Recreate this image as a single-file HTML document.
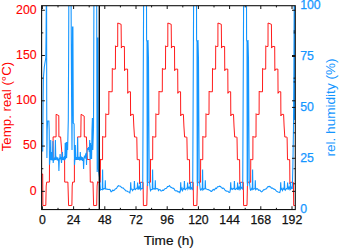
<!DOCTYPE html>
<html><head><meta charset="utf-8"><style>
html,body{margin:0;padding:0;background:#fff;width:342px;height:248px;overflow:hidden}
svg{display:block}
</style></head><body>
<svg width="342" height="248" viewBox="0 0 342 248">
<rect width="342" height="248" fill="#fff"/>
<defs><clipPath id="c"><rect x="41.6" y="5.7" width="253.70000000000002" height="203.85000000000002"/></clipPath></defs>
<g clip-path="url(#c)" fill="none" stroke-linejoin="miter" stroke-linecap="butt">
<path d="M41.50,174.00 L42.70,174.00 L42.90,205.60 L45.80,205.40 L46.20,186.00 L46.70,182.10 L49.40,182.10 L49.50,159.50 L53.10,159.50 L53.10,136.90 L56.10,136.90 L56.10,114.30 L58.80,115.60 L58.90,136.90 L60.60,136.90 L62.40,159.50 L64.60,159.50 L64.70,182.10 L67.90,182.10 L68.60,205.60 L71.90,205.40 L72.20,186.00 L72.60,182.10 L74.40,182.10 L74.40,159.50 L77.60,159.50 L77.60,136.90 L80.80,136.90 L81.10,114.30 L84.20,116.20 L84.30,136.90 L86.40,136.90 L87.30,159.50 L90.00,159.50 L90.30,182.10 L93.00,182.10 L93.60,205.60 L96.70,205.40 L97.10,186.00 L97.60,181.69 L98.30,182.29 L100.35,182.29 L100.45,158.96 L101.05,159.66 L102.55,159.66 L102.65,136.32 L103.25,137.02 L105.70,137.02 L105.80,113.68 L106.40,114.38 L108.80,114.38 L108.90,91.05 L109.50,91.75 L112.20,91.75 L112.30,68.41 L112.90,69.11 L115.40,69.11 L115.50,45.77 L116.10,46.47 L117.70,46.47 L117.75,23.00 L121.10,24.30 L121.35,48.07 L122.10,46.47 L124.40,46.47 L124.55,70.71 L125.30,69.11 L127.60,69.11 L127.75,93.34 L128.50,91.75 L130.45,91.75 L130.60,115.98 L131.35,114.38 L133.30,114.38 L133.80,126.00 L134.50,137.02 L136.50,137.02 L136.80,137.62 L137.20,159.66 L139.40,159.66 L139.60,183.79 L140.30,182.29 L143.10,182.29 L143.40,205.60 L146.80,205.40 L147.20,186.00 L147.70,181.69 L148.40,182.29 L150.45,182.29 L150.55,158.96 L151.15,159.66 L152.65,159.66 L152.75,136.32 L153.35,137.02 L155.80,137.02 L155.90,113.68 L156.50,114.38 L158.90,114.38 L159.00,91.05 L159.60,91.75 L162.30,91.75 L162.40,68.41 L163.00,69.11 L165.50,69.11 L165.60,45.77 L166.20,46.47 L167.80,46.47 L167.85,23.00 L171.20,24.30 L171.45,48.07 L172.20,46.47 L174.50,46.47 L174.65,70.71 L175.40,69.11 L177.70,69.11 L177.85,93.34 L178.60,91.75 L180.55,91.75 L180.70,115.98 L181.45,114.38 L183.40,114.38 L183.90,126.00 L184.60,137.02 L186.60,137.02 L186.90,137.62 L187.30,159.66 L189.50,159.66 L189.70,183.79 L190.40,182.29 L193.20,182.29 L193.50,205.60 L196.90,205.40 L197.30,186.00 L197.80,181.69 L198.50,182.29 L200.55,182.29 L200.65,158.96 L201.25,159.66 L202.75,159.66 L202.85,136.32 L203.45,137.02 L205.90,137.02 L206.00,113.68 L206.60,114.38 L209.00,114.38 L209.10,91.05 L209.70,91.75 L212.40,91.75 L212.50,68.41 L213.10,69.11 L215.60,69.11 L215.70,45.77 L216.30,46.47 L217.90,46.47 L217.95,23.00 L221.30,24.30 L221.55,48.07 L222.30,46.47 L224.60,46.47 L224.75,70.71 L225.50,69.11 L227.80,69.11 L227.95,93.34 L228.70,91.75 L230.65,91.75 L230.80,115.98 L231.55,114.38 L233.50,114.38 L234.00,126.00 L234.70,137.02 L236.70,137.02 L237.00,137.62 L237.40,159.66 L239.60,159.66 L239.80,183.79 L240.50,182.29 L243.30,182.29 L243.60,205.60 L247.00,205.40 L247.40,186.00 L247.90,181.69 L248.60,182.29 L250.65,182.29 L250.75,158.96 L251.35,159.66 L252.85,159.66 L252.95,136.32 L253.55,137.02 L256.00,137.02 L256.10,113.68 L256.70,114.38 L259.10,114.38 L259.20,91.05 L259.80,91.75 L262.50,91.75 L262.60,68.41 L263.20,69.11 L265.70,69.11 L265.80,45.77 L266.40,46.47 L268.00,46.47 L268.05,23.00 L271.40,24.30 L271.65,48.07 L272.40,46.47 L274.70,46.47 L274.85,70.71 L275.60,69.11 L277.90,69.11 L278.05,93.34 L278.80,91.75 L280.75,91.75 L280.90,115.98 L281.65,114.38 L283.60,114.38 L284.10,126.00 L284.80,137.02 L286.80,137.02 L287.10,137.62 L287.50,159.66 L289.70,159.66 L289.90,183.79 L290.60,182.29 L293.40,182.29 L293.70,205.60 L296.00,205.40" stroke="#ff0000" stroke-width="0.9"/>
<path d="M41.50,151.00 L42.70,151.00 L43.10,100.00 L43.40,78.00 L44.30,67.00 L45.80,57.80 L46.10,35.00 L46.30,5.00 L46.60,5.00 L46.70,100.00 L46.90,158.00 L47.20,130.00 L47.60,121.00 L48.90,121.00 L49.20,130.00 L49.50,164.70 L50.00,159.50 L50.40,158.00 L50.70,140.00 L51.00,160.00 L51.30,158.00 L51.70,152.00 L52.00,160.50 L52.40,158.00 L52.90,141.00 L53.20,163.00 L53.50,159.50 L53.80,160.00 L54.40,158.50 L55.00,160.00 L55.40,140.00 L55.80,160.00 L56.15,156.66 L56.50,159.50 L56.90,157.50 L57.30,160.50 L57.75,157.42 L58.20,160.00 L58.60,161.00 L58.90,171.00 L59.30,159.00 L59.80,158.00 L60.10,154.00 L60.50,159.50 L60.85,157.17 L61.20,160.00 L61.50,163.00 L61.90,158.00 L62.40,152.00 L62.80,160.00 L63.15,156.75 L63.50,159.50 L63.85,157.67 L64.20,160.50 L64.60,156.00 L64.90,160.00 L65.20,143.00 L65.60,159.00 L66.20,142.00 L66.60,158.00 L67.30,142.00 L67.60,150.00 L68.30,120.00 L68.60,60.00 L68.80,5.00 L71.10,5.00 L71.60,100.00 L72.00,150.00 L72.50,27.00 L72.90,27.00 L73.30,123.00 L74.10,124.00 L74.50,165.00 L74.90,159.50 L75.30,145.00 L75.70,160.00 L76.10,157.69 L76.50,159.00 L76.85,157.22 L77.20,160.00 L77.60,137.50 L77.90,159.50 L78.25,157.21 L78.60,160.00 L79.00,156.78 L79.40,159.00 L80.00,160.50 L80.30,152.00 L80.60,160.00 L81.05,156.41 L81.50,160.00 L81.90,156.99 L82.30,161.00 L82.65,157.34 L83.00,159.50 L83.30,160.00 L83.60,169.00 L84.00,159.00 L84.35,156.51 L84.70,157.00 L85.10,157.67 L85.50,155.00 L86.20,153.00 L86.50,165.00 L86.90,152.00 L87.60,148.00 L88.00,150.00 L88.60,147.00 L89.30,152.00 L89.70,140.00 L90.10,160.00 L90.50,143.00 L90.90,159.00 L91.20,145.00 L91.60,159.00 L92.00,130.00 L92.40,118.00 L92.80,150.00 L93.50,128.00 L93.90,5.00 L96.70,5.00 L96.90,100.00 L97.20,172.00 L97.50,38.00 L97.90,38.00 L98.30,169.00 L99.60,178.00 L100.50,189.94 L101.00,189.57 L101.80,189.51 L102.30,189.46 L102.60,169.50 L102.90,189.51 L104.00,188.60 L105.00,188.62 L105.30,180.30 L105.60,189.01 L107.00,189.16 L108.00,189.55 L108.50,189.51 L109.00,189.26 L110.00,189.51 L111.00,191.67 L111.70,191.73 L112.50,190.15 L113.50,190.58 L114.50,190.06 L115.50,188.68 L116.50,188.44 L117.50,186.59 L118.50,185.72 L119.50,186.03 L120.50,186.27 L121.50,187.63 L122.50,187.99 L123.00,187.94 L124.00,188.96 L125.00,189.93 L126.00,190.91 L127.00,191.02 L128.00,191.67 L129.00,192.00 L129.80,192.89 L130.40,189.95 L130.70,182.30 L131.10,189.23 L132.00,189.10 L132.50,190.59 L133.50,189.41 L134.10,189.25 L134.40,181.00 L134.80,188.78 L135.50,189.68 L136.50,188.25 L137.30,187.98 L137.60,182.50 L138.00,189.82 L139.00,186.88 L139.80,189.42 L140.10,187.36 L140.40,182.00 L140.80,189.55 L141.50,188.42 L142.20,188.40 L142.70,188.65 L143.60,5.00 L146.50,5.00 L146.60,40.00 L147.00,42.00 L147.20,182.00 L147.60,186.00 L148.00,40.00 L148.50,60.00 L149.20,180.00 L149.90,186.00 L150.20,189.00 L150.50,190.49 L151.00,189.46 L151.80,189.58 L152.30,189.38 L152.60,169.50 L152.90,188.99 L154.00,188.66 L155.00,189.33 L155.30,180.30 L155.60,188.72 L157.00,188.50 L158.00,189.00 L158.50,190.56 L159.00,189.81 L160.00,189.54 L161.00,191.00 L161.70,191.02 L162.50,190.17 L163.50,190.36 L164.50,189.11 L165.50,188.57 L166.50,188.24 L167.50,186.63 L168.50,186.58 L169.50,185.56 L170.50,186.97 L171.50,187.54 L172.50,188.20 L173.00,188.16 L174.00,188.72 L175.00,190.57 L176.00,190.86 L177.00,190.76 L178.00,191.96 L179.00,191.65 L179.80,192.57 L180.40,190.43 L180.70,182.30 L181.10,189.67 L182.00,188.02 L182.50,190.59 L183.50,188.66 L184.10,188.71 L184.40,181.00 L184.80,189.33 L185.50,189.79 L186.50,188.26 L187.30,187.99 L187.60,182.50 L188.00,189.01 L189.00,187.10 L189.80,188.69 L190.10,187.62 L190.40,182.00 L190.80,188.85 L191.50,187.94 L192.20,189.55 L192.70,188.98 L193.60,5.00 L196.50,5.00 L196.60,40.00 L197.00,42.00 L197.20,182.00 L197.60,186.00 L198.00,40.00 L198.50,60.00 L199.20,180.00 L199.90,186.00 L200.20,189.00 L200.50,190.09 L201.00,189.94 L201.80,188.62 L202.30,189.08 L202.60,169.50 L202.90,189.99 L204.00,188.88 L205.00,188.70 L205.30,180.30 L205.60,188.63 L207.00,189.29 L208.00,189.73 L208.50,189.64 L209.00,190.04 L210.00,190.46 L211.00,191.42 L211.70,191.41 L212.50,190.22 L213.50,189.45 L214.50,190.06 L215.50,188.19 L216.50,188.55 L217.50,186.71 L218.50,186.69 L219.50,186.12 L220.50,186.55 L221.50,187.61 L222.50,188.56 L223.00,187.98 L224.00,188.67 L225.00,190.07 L226.00,190.92 L227.00,191.14 L228.00,191.24 L229.00,192.50 L229.80,192.34 L230.40,189.42 L230.70,182.30 L231.10,189.22 L232.00,188.43 L232.50,189.47 L233.50,188.61 L234.10,188.84 L234.40,181.00 L234.80,189.09 L235.50,189.56 L236.50,188.33 L237.30,188.97 L237.60,182.50 L238.00,190.08 L239.00,187.19 L239.80,189.23 L240.10,187.60 L240.40,182.00 L240.80,188.57 L241.50,187.44 L242.20,188.42 L242.70,189.49 L243.60,5.00 L246.50,5.00 L246.60,40.00 L247.00,42.00 L247.20,182.00 L247.60,186.00 L248.00,40.00 L248.50,60.00 L249.20,180.00 L249.90,186.00 L250.20,189.00 L250.50,190.24 L251.00,190.06 L251.80,188.43 L252.30,189.66 L252.60,169.50 L252.90,189.48 L254.00,188.78 L255.00,188.78 L255.30,180.30 L255.60,189.60 L257.00,188.49 L258.00,189.26 L258.50,190.28 L259.00,189.98 L260.00,190.28 L261.00,191.54 L261.70,191.85 L262.50,191.20 L263.50,189.82 L264.50,189.72 L265.50,188.98 L266.50,188.75 L267.50,186.90 L268.50,186.65 L269.50,186.44 L270.50,186.89 L271.50,188.15 L272.50,188.16 L273.00,188.60 L274.00,189.13 L275.00,189.50 L276.00,190.67 L277.00,191.59 L278.00,191.96 L279.00,192.27 L279.80,192.57 L280.40,190.28 L280.70,182.30 L281.10,189.60 L282.00,188.43 L282.50,190.41 L283.50,188.50 L284.10,189.30 L284.40,181.00 L284.80,188.44 L285.50,190.12 L286.50,188.48 L287.30,188.18 L287.60,182.50 L288.00,189.74 L289.00,187.00 L289.80,189.14 L290.10,188.00 L290.40,182.00 L290.80,188.71 L291.50,187.41 L292.20,188.76 L292.30,189.00 L292.90,165.00 L293.50,127.00 L293.90,70.00 L294.20,5.00 L294.50,5.00 L294.70,120.00 L294.40,5.00" stroke="#1496ff" stroke-width="1.1"/>
</g>
<path d="M99.3,5.7 V209.55" stroke="#000" stroke-width="1.3"/>
<rect x="41.6" y="5.7" width="253.70000000000002" height="203.85000000000002" fill="none" stroke="#111" stroke-width="1.1"/>
<path d="M42.40,209.55 V206.25 M42.40,5.7 V9.00 M58.00,209.55 V207.85 M58.00,5.7 V7.40 M73.60,209.55 V206.25 M73.60,5.7 V9.00 M89.20,209.55 V207.85 M89.20,5.7 V7.40 M104.80,209.55 V206.25 M104.80,5.7 V9.00 M120.40,209.55 V207.85 M120.40,5.7 V7.40 M136.00,209.55 V206.25 M136.00,5.7 V9.00 M151.60,209.55 V207.85 M151.60,5.7 V7.40 M167.20,209.55 V206.25 M167.20,5.7 V9.00 M182.80,209.55 V207.85 M182.80,5.7 V7.40 M198.40,209.55 V206.25 M198.40,5.7 V9.00 M214.00,209.55 V207.85 M214.00,5.7 V7.40 M229.60,209.55 V206.25 M229.60,5.7 V9.00 M245.20,209.55 V207.85 M245.20,5.7 V7.40 M260.80,209.55 V206.25 M260.80,5.7 V9.00 M276.40,209.55 V207.85 M276.40,5.7 V7.40 M292.00,209.55 V206.25 M292.00,5.7 V9.00 M41.6,191.35 H44.90 M295.3,191.35 H292.00 M41.6,168.71 H43.30 M295.3,168.71 H293.60 M41.6,146.07 H44.90 M295.3,146.07 H292.00 M41.6,123.44 H43.30 M295.3,123.44 H293.60 M41.6,100.80 H44.90 M295.3,100.80 H292.00 M41.6,78.16 H43.30 M295.3,78.16 H293.60 M41.6,55.53 H44.90 M295.3,55.53 H292.00 M41.6,32.89 H43.30 M295.3,32.89 H293.60 M41.6,10.25 H44.90 M295.3,10.25 H292.00 M295.3,183.75 H293.60 M295.3,158.30 H292.00 M295.3,132.85 H293.60 M295.3,107.40 H292.00 M295.3,81.95 H293.60 M295.3,56.50 H292.00 M295.3,31.05 H293.60" stroke="#111" stroke-width="1" fill="none"/>
<g font-family="Liberation Sans, sans-serif" font-size="12.3" stroke-width="0.25" style="paint-order:stroke">
<text x="36.6" y="194.75" text-anchor="end" fill="#ff0000" stroke="#ff0000" stroke-width="0.12">0</text>
<text x="36.6" y="149.47" text-anchor="end" fill="#ff0000" stroke="#ff0000" stroke-width="0.12">50</text>
<text x="36.6" y="104.20" text-anchor="end" fill="#ff0000" stroke="#ff0000" stroke-width="0.12">100</text>
<text x="36.6" y="58.93" text-anchor="end" fill="#ff0000" stroke="#ff0000" stroke-width="0.12">150</text>
<text x="36.6" y="13.65" text-anchor="end" fill="#ff0000" stroke="#ff0000" stroke-width="0.12">200</text>
<text x="300.2" y="212.80" fill="#1496ff" stroke="#1496ff">0</text>
<text x="300.2" y="161.90" fill="#1496ff" stroke="#1496ff">25</text>
<text x="300.2" y="111.00" fill="#1496ff" stroke="#1496ff">50</text>
<text x="300.2" y="60.10" fill="#1496ff" stroke="#1496ff">75</text>
<text x="300.2" y="9.20" fill="#1496ff" stroke="#1496ff">100</text>
<text x="42.40" y="223.9" text-anchor="middle" fill="#111" stroke="#111">0</text>
<text x="73.60" y="223.9" text-anchor="middle" fill="#111" stroke="#111">24</text>
<text x="104.80" y="223.9" text-anchor="middle" fill="#111" stroke="#111">48</text>
<text x="136.00" y="223.9" text-anchor="middle" fill="#111" stroke="#111">72</text>
<text x="167.20" y="223.9" text-anchor="middle" fill="#111" stroke="#111">96</text>
<text x="198.40" y="223.9" text-anchor="middle" fill="#111" stroke="#111">120</text>
<text x="229.60" y="223.9" text-anchor="middle" fill="#111" stroke="#111">144</text>
<text x="260.80" y="223.9" text-anchor="middle" fill="#111" stroke="#111">168</text>
<text x="292.00" y="223.9" text-anchor="middle" fill="#111" stroke="#111">192</text>
</g>
<text x="168.8" y="244.7" text-anchor="middle" font-family="Liberation Sans, sans-serif" font-size="13.6" fill="#111" stroke="#111" stroke-width="0.2">Time (h)</text>
<text transform="translate(11,106.6) rotate(-90)" text-anchor="middle" font-family="Liberation Sans, sans-serif" font-size="13.3" fill="#ff0000">Temp. real (°C)</text>
<text transform="translate(334.8,107.5) rotate(-90)" text-anchor="middle" font-family="Liberation Sans, sans-serif" font-size="13.6" fill="#1496ff">rel. humidity (%)</text>
</svg>
</body></html>
